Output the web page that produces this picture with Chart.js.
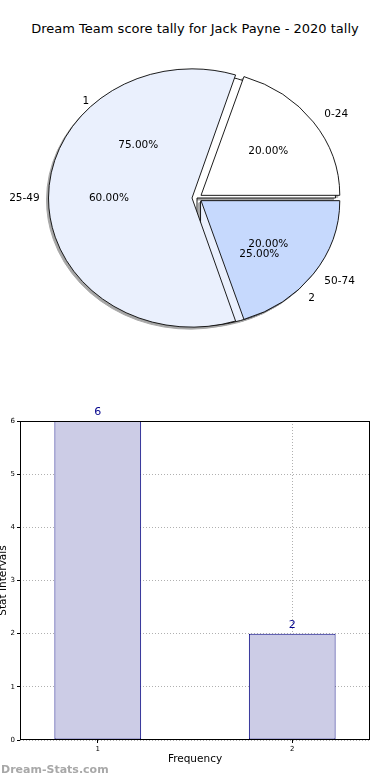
<!DOCTYPE html>
<html>
<head>
<meta charset="utf-8">
<script src="https://cdn.jsdelivr.net/npm/chart.js@4.4.1/dist/chart.umd.min.js"></script>
<style>
  body { margin: 0; width: 390px; height: 780px; overflow: hidden; background: #fff; position: relative; font-family: "DejaVu Sans", sans-serif; }
  #title { position: absolute; top: 21px; left: 0; width: 390px; text-align: center; font-size: 13px; color: #000; }
  #pies { position: absolute; left: 48px; top: 49px; width: 298px; height: 298px; filter: drop-shadow(-2px 2px 0 rgba(77, 77, 77, 0.5)); }
  #pies canvas { position: absolute; left: 0; top: 0; }
  #pie-labels { position: absolute; left: 0; top: 0; }
  #bars { position: absolute; left: 0; top: 400px; }
  #mark { position: absolute; left: 1px; top: 763px; font-size: 11px; font-weight: bold; color: #a8a8a8; }
</style>
</head>
<body>
<div id="title">Dream Team score tally for Jack Payne - 2020 tally</div>
<div id="pies">
  <canvas id="pie-back" width="298" height="298"></canvas>
  <canvas id="pie-front" width="298" height="298"></canvas>
</div>
<canvas id="pie-labels" width="390" height="400"></canvas>
<canvas id="bars" width="390" height="380"></canvas>
<div id="mark">Dream-Stats.com</div>
<script>
'use strict';

// score bands (front pie)
const bandLabels = ['0-24', '25-49', '50-74'];
const bandValues = [1, 3, 1];
const bandColors = ['#ffffff', '#eaf0fd', '#c6d9fd'];
const bandOffsets = [20, 20, 20];

// frequency split (back pie)
const freqLabels = ['1', '2'];
const freqValues = [6, 2];
const freqColors = ['#ffffff', '#eaf0fd'];
const freqOffsets = [0, 20];

// bar chart
const barCategories = [1, 2];
const barValues = [6, 2];
const yTicks = [0, 1, 2, 3, 4, 5, 6];

const PIE_SQUASH = 0.9;
const PIE_LEFT = 48;
const PIE_TOP = 49;

// matplotlib draws counter-clockwise from 3 o'clock, Chart.js clockwise
const rev = arr => arr.slice().reverse();

const squashPlugin = {
  id: 'squash',
  beforeDatasetsDraw(chart) {
    const { ctx, chartArea } = chart;
    const cy = (chartArea.top + chartArea.bottom) / 2;
    ctx.save();
    ctx.translate(0, cy * (1 - PIE_SQUASH));
    ctx.scale(1, PIE_SQUASH);
  },
  afterDatasetsDraw(chart) {
    chart.ctx.restore();
  },
};

function makePie(id, labels, values, colors, offsets) {
  return new Chart(document.getElementById(id), {
    type: 'pie',
    data: {
      labels: rev(labels),
      datasets: [{
        data: rev(values),
        backgroundColor: rev(colors),
        offset: rev(offsets),
        borderColor: '#111',
        borderWidth: 1,
      }],
    },
    options: {
      responsive: false,
      animation: false,
      rotation: 90,
      plugins: { legend: { display: false }, tooltip: { enabled: false } },
    },
    plugins: [squashPlugin],
  });
}

const backPie = makePie('pie-back', freqLabels, freqValues, freqColors, freqOffsets);
const frontPie = makePie('pie-front', bandLabels, bandValues, bandColors, bandOffsets);

function drawPieLabels(chart) {
  const ctx = document.getElementById('pie-labels').getContext('2d');
  const meta = chart.getDatasetMeta(0);
  const values = chart.data.datasets[0].data;
  const total = values.reduce((a, b) => a + b, 0);
  ctx.font = '10.5px "DejaVu Sans"';
  ctx.fillStyle = '#000';
  ctx.textBaseline = 'middle';
  meta.data.forEach((arc, i) => {
    const mid = (arc.startAngle + arc.endAngle) / 2;
    const shift = (arc.options.offset || 0) / 4;
    const place = k => {
      const d = arc.outerRadius * k + shift;
      const px = arc.x + Math.cos(mid) * d;
      const py = arc.y + Math.sin(mid) * d * PIE_SQUASH;
      return [PIE_LEFT + px, PIE_TOP + py];
    };
    const [lx, ly] = place(1.1);
    ctx.textAlign = Math.cos(mid) > 0 ? 'left' : 'right';
    ctx.fillText(chart.data.labels[i], lx, ly);
    const [tx, ty] = place(0.6);
    ctx.textAlign = 'center';
    ctx.fillText((values[i] / total * 100).toFixed(2) + '%', tx, ty);
  });
}

drawPieLabels(backPie);
drawPieLabels(frontPie);

const frameBox = {
  id: 'frameBox',
  afterDraw(chart) {
    const { ctx, chartArea } = chart;
    ctx.save();
    ctx.strokeStyle = '#000';
    ctx.lineWidth = 1;
    ctx.strokeRect(chartArea.left + 0.5, chartArea.top + 0.5, chartArea.width - 1, chartArea.height - 1);
    ctx.restore();
  },
};

const barValueLabels = {
  id: 'barValueLabels',
  afterDatasetsDraw(chart) {
    const { ctx } = chart;
    ctx.save();
    ctx.font = '11px "DejaVu Sans"';
    ctx.fillStyle = '#00008b';
    ctx.textAlign = 'center';
    ctx.textBaseline = 'bottom';
    chart.getDatasetMeta(0).data.forEach((bar, i) => {
      ctx.fillText(String(barValues[i]), bar.x, bar.y - 3);
    });
    ctx.restore();
  },
};

const tickFont = { family: '"DejaVu Sans"', size: 7 };
const titleFont = { family: '"DejaVu Sans"', size: 10.5 };

new Chart(document.getElementById('bars'), {
  type: 'bar',
  data: {
    datasets: [{
      data: barCategories.map((x, i) => ({ x, y: barValues[i] })),
      backgroundColor: '#cccce6',
      borderColor: '#000080',
      borderWidth: 1,
      borderSkipped: false,
      barPercentage: 0.446,
      categoryPercentage: 1,
    }],
  },
  options: {
    responsive: false,
    animation: false,
    layout: { padding: { top: 21, right: 20, left: 0, bottom: 0 } },
    plugins: { legend: { display: false }, tooltip: { enabled: false } },
    scales: {
      x: {
        type: 'linear',
        min: 0.6,
        max: 2.4,
        offset: false,
        z: 1,
        afterBuildTicks: scale => { scale.ticks = barCategories.map(value => ({ value })); },
        afterFit: scale => { scale.height = 40; },
        ticks: { font: tickFont, color: '#000', padding: 2 },
        grid: { offset: false, color: '#b0b0b0', tickLength: 3, tickColor: '#000' },
        border: { display: false, dash: [1, 2] },
        title: { display: true, text: 'Frequency', font: titleFont, color: '#000', padding: { top: 0, bottom: 14 } },
      },
      y: {
        min: 0,
        max: 6,
        afterBuildTicks: scale => { scale.ticks = yTicks.map(value => ({ value })); },
        afterFit: scale => { scale.width = 20; },
        ticks: { font: tickFont, color: '#000', padding: 2 },
        grid: { color: '#b0b0b0', tickLength: 3, tickColor: '#000' },
        border: { display: false, dash: [1, 2] },
        title: { display: true, text: 'Stat Intervals', font: titleFont, color: '#000', padding: { top: -3, bottom: 0 } },
      },
    },
  },
  plugins: [frameBox, barValueLabels],
});
</script>
</body>
</html>
